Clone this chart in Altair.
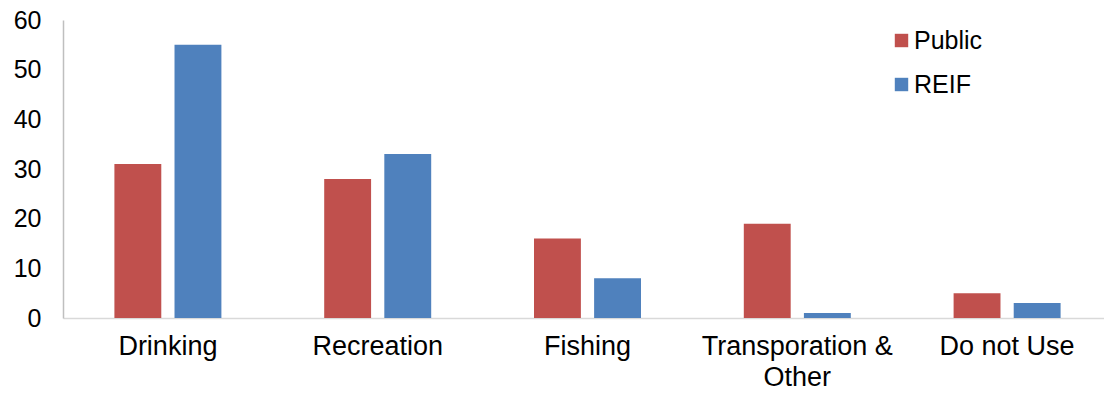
import altair as alt
import pandas as pd

categories = ["Drinking", "Recreation", "Fishing", "Transporation & Other", "Do not Use"]
public = [31, 28, 16, 19, 5]
reif = [55, 33, 8, 1, 3]
series = ["Public", "REIF"]
colors = ["#C0504D", "#4F81BD"]

rows = []
for cat, p, r in zip(categories, public, reif):
    rows.append({"category": cat, "series": "Public", "value": p})
    rows.append({"category": cat, "series": "REIF", "value": r})
df = pd.DataFrame(rows)

font = "Liberation Sans"

chart = (
    alt.Chart(df)
    .mark_bar()
    .encode(
        x=alt.X(
            "category:N",
            sort=categories,
            title=None,
            # the category axis runs slightly past the right edge of the canvas
            scale=alt.Scale(range=[0, 1049], paddingInner=0.49, paddingOuter=0.245),
            axis=alt.Axis(
                labelAngle=0,
                labelFontSize=27,
                labelFont=font,
                labelColor="#000000",
                labelPadding=15,
                labelLineHeight=31,
                labelLimit=400,
                labelExpr="datum.value == 'Transporation & Other' ? ['Transporation &', 'Other'] : datum.value",
                ticks=False,
                domainColor="#D9D9D9",
                domainWidth=1.5,
            ),
        ),
        xOffset=alt.XOffset(
            "series:N",
            sort=series,
            scale=alt.Scale(paddingInner=0.22, paddingOuter=0),
        ),
        y=alt.Y(
            "value:Q",
            title=None,
            scale=alt.Scale(domain=[0, 60], nice=False),
            axis=alt.Axis(
                values=[0, 10, 20, 30, 40, 50, 60],
                grid=False,
                ticks=False,
                labelFontSize=25,
                labelFont=font,
                labelColor="#000000",
                labelPadding=22,
                domainColor="#BFBFBF",
                domainWidth=1.5,
            ),
        ),
        color=alt.Color(
            "series:N",
            sort=series,
            scale=alt.Scale(domain=series, range=colors),
            legend=alt.Legend(
                title=None,
                orient="none",
                legendX=826,
                legendY=8,
                symbolType="square",
                symbolSize=180,
                symbolStrokeWidth=0,
                labelFontSize=25,
                labelFont=font,
                labelColor="#000000",
                rowPadding=18,
                labelOffset=0,
            ),
        ),
    )
    .properties(
        width=1041,
        height=298,
        padding={"left": 63, "top": 20, "right": 0, "bottom": 77},
        autosize=alt.AutoSizeParams(type="none"),
    )
    .configure_view(stroke=None)
)

chart.save("out.html", embed_options={"renderer": "svg", "actions": False})
